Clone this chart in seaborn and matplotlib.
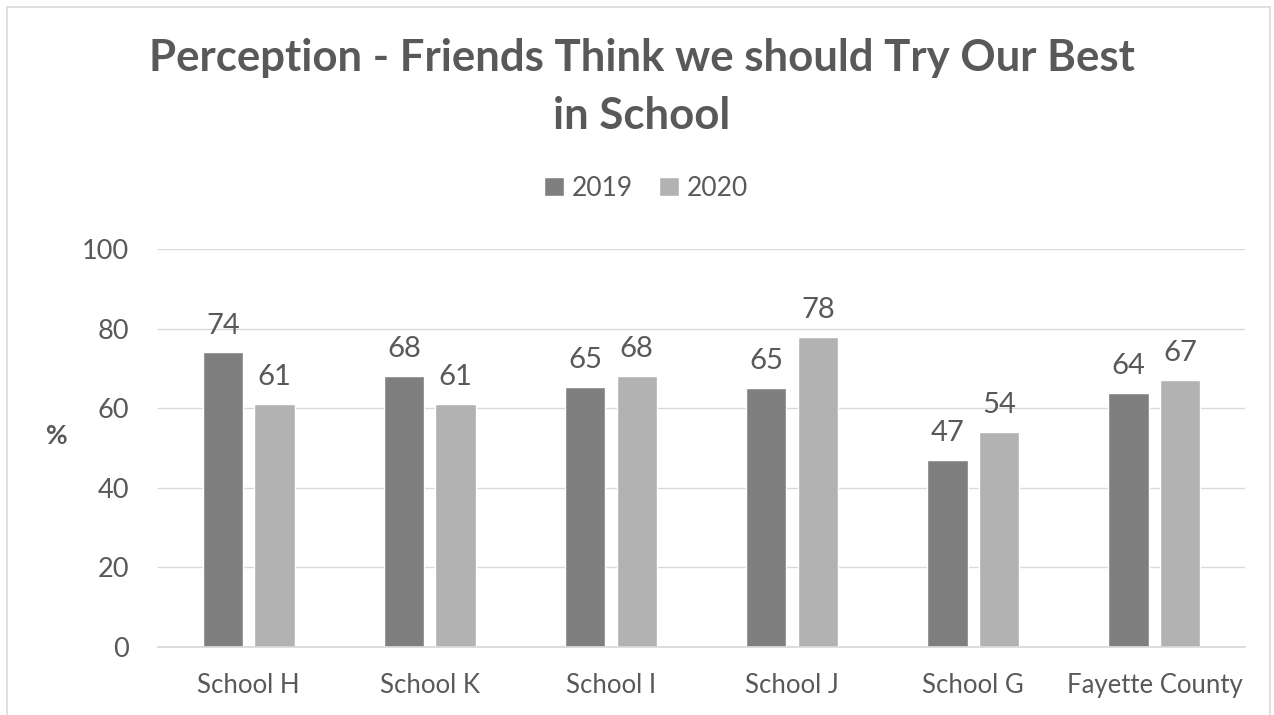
import numpy as np
import pandas as pd
import matplotlib
matplotlib.use('Agg')
import matplotlib.pyplot as plt
import seaborn as sns
from matplotlib.patches import Rectangle

# ── данные ──
schools = ["School H", "School K", "School I", "School J", "School G", "Fayette County"]
years = ["2019", "2020"]
vals_2019 = [74, 68, 65.3, 65, 47, 63.8]
vals_2020 = [61, 61, 68, 78, 54, 67]

TEXT = "#595959"
GRID = "#d9d9d9"
palette = {"2019": "#7f7f7f", "2020": "#b2b2b2"}

df = pd.DataFrame({
    "school": schools * 2,
    "year": [years[0]] * len(schools) + [years[1]] * len(schools),
    "value": vals_2019 + vals_2020,
})

sns.set_theme(style="white")
plt.rcParams['font.family'] = ['Lato', 'DejaVu Sans']

fig = plt.figure(figsize=(12.74, 7.15), dpi=100)
ax = fig.add_axes([158 / 1274, 1 - 647 / 715, 1087 / 1274, 398 / 715])

sns.barplot(data=df, x="school", y="value", hue="year", palette=palette,
            width=0.57, gap=0.22, ax=ax, legend=True)

ax.set_ylim(0, 100)
ax.set_yticks(range(0, 101, 20))
ax.yaxis.grid(True, color=GRID, linewidth=1)
ax.set_axisbelow(True)
for s in ["top", "right", "left"]:
    ax.spines[s].set_visible(False)
ax.spines["bottom"].set_color(GRID)
ax.tick_params(axis="both", length=0)
ax.tick_params(axis="y", labelsize=19.5, labelcolor=TEXT, pad=21)
ax.tick_params(axis="x", labelsize=18.5, labelcolor=TEXT, pad=19)
ax.set_xlabel("")
ax.set_ylabel("%", fontsize=19, fontweight="bold", color=TEXT, rotation=0,
              labelpad=0)
ax.yaxis.set_label_coords(-0.093, 0.5)

for cont in ax.containers:
    ax.bar_label(cont, labels=[f"{v:.0f}" for v in cont.datavalues],
                 padding=10, fontsize=21, color=TEXT)

leg = ax.legend(loc="center", bbox_to_anchor=(646 / 1274, 1 - 188 / 715),
                bbox_transform=fig.transFigure, ncol=2, frameon=False,
                fontsize=19, handlelength=0.75, handleheight=0.75,
                handletextpad=0.3, columnspacing=1.0)
for t in leg.get_texts():
    t.set_color(TEXT)

fig.text(642 / 1274, 1 - 87 / 715,
         "Perception - Friends Think we should Try Our Best\nin School",
         ha="center", va="center", fontsize=31.5, fontweight="bold", color=TEXT,
         linespacing=1.55)

fig.patches.append(Rectangle((7 / 1274, -0.01), 1 - 11 / 1274, 1 - 7 / 715 + 0.01,
                             transform=fig.transFigure, fill=False,
                             edgecolor=GRID, linewidth=1.2))

fig.savefig("out.png", dpi=100)
